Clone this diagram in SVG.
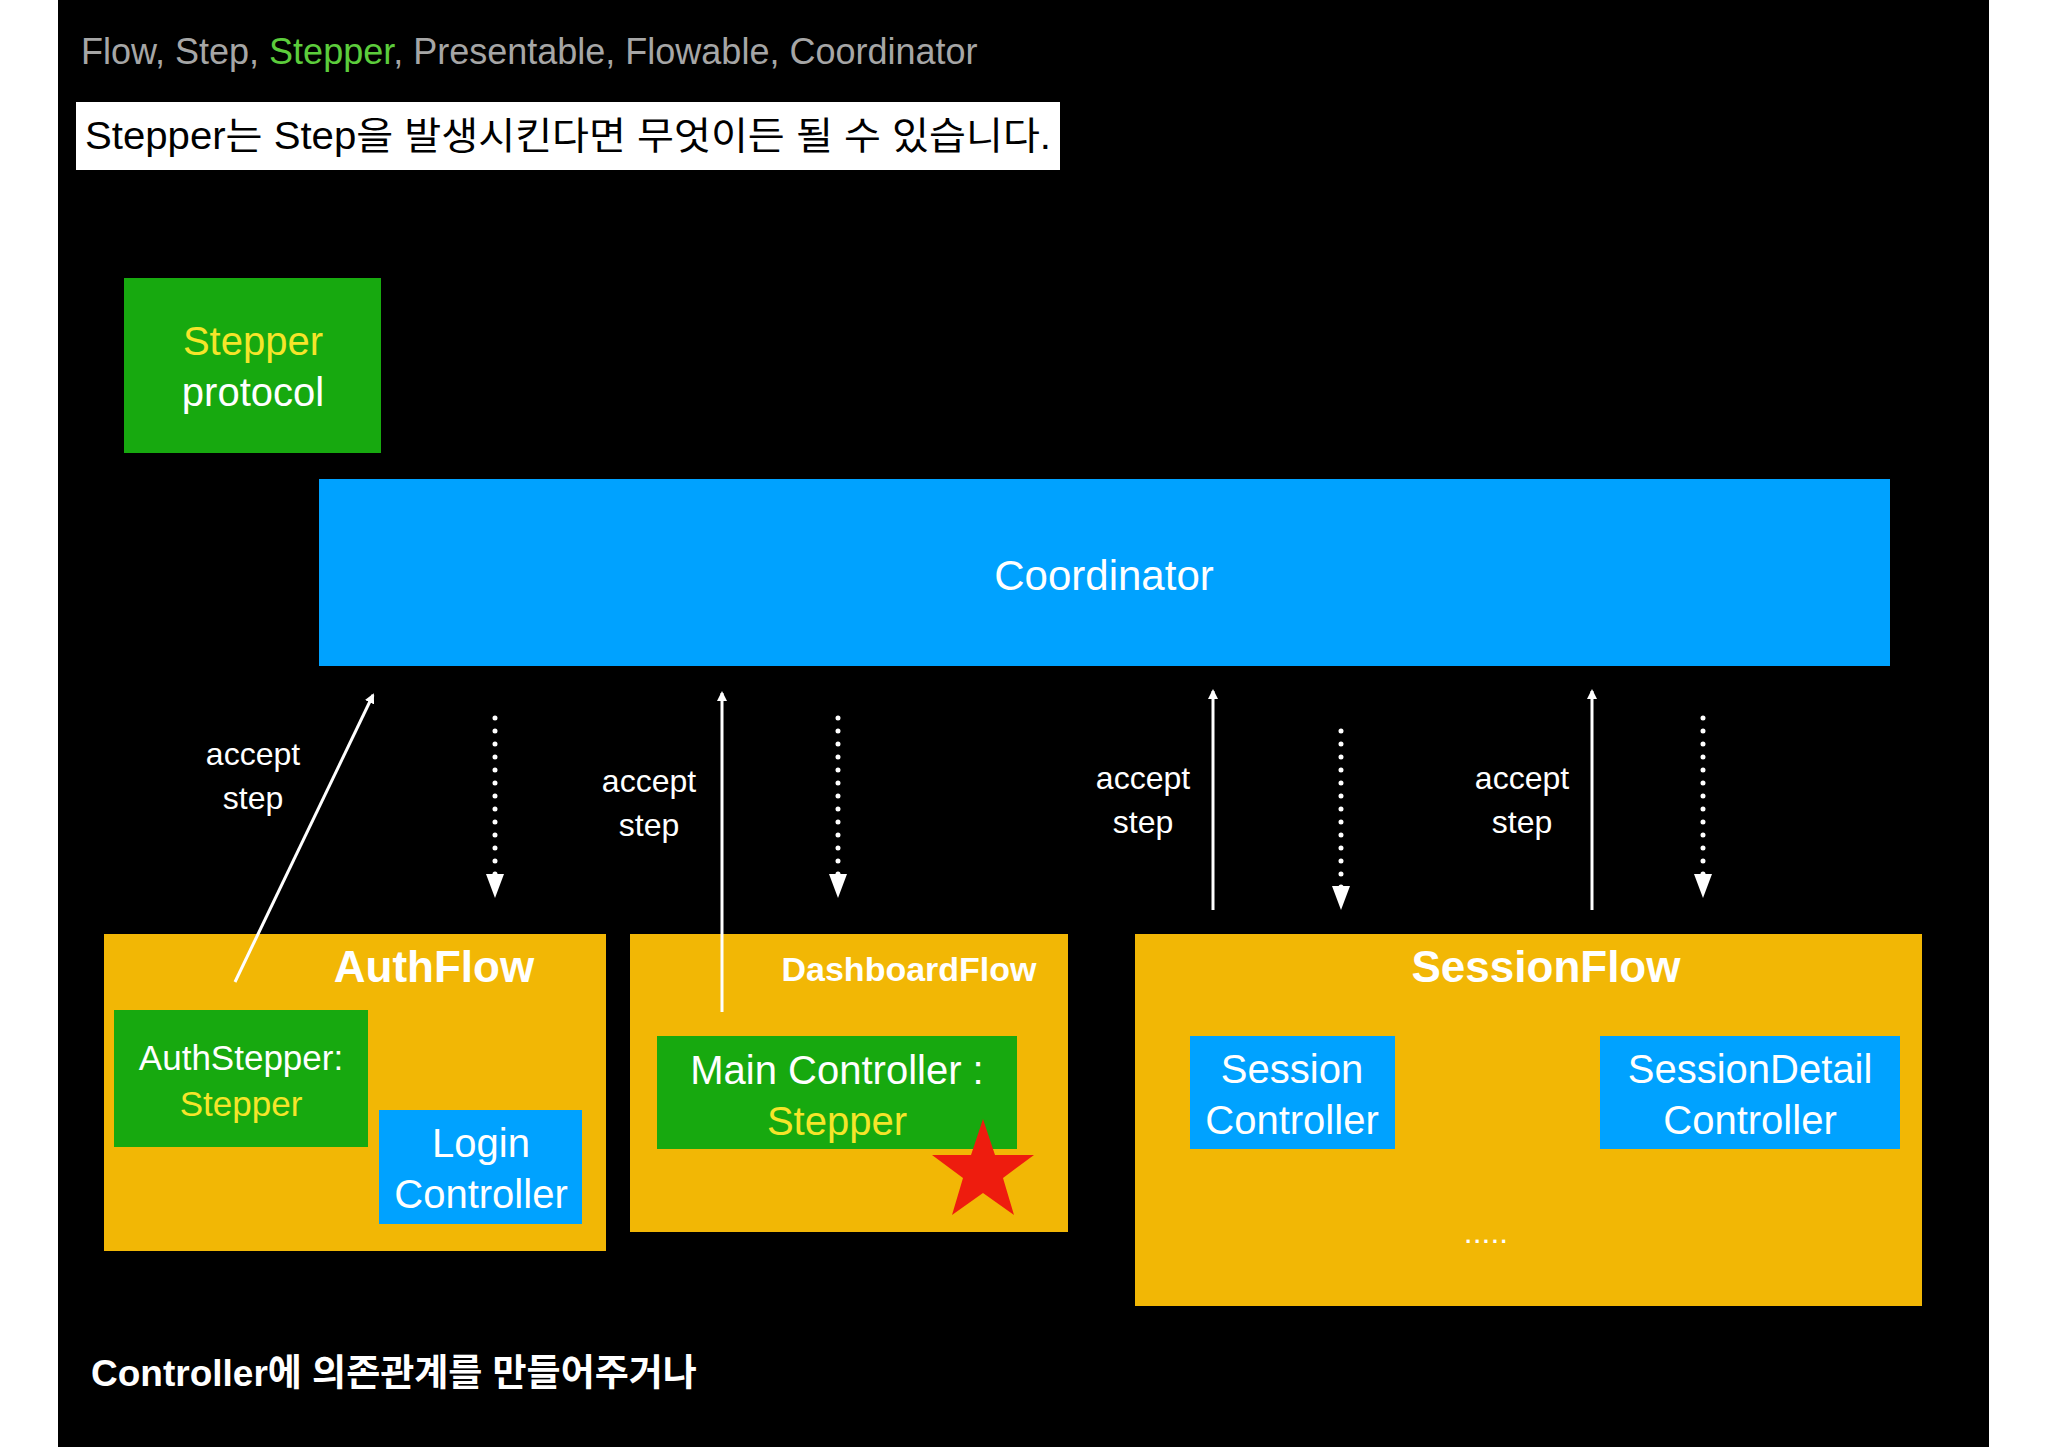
<svg xmlns="http://www.w3.org/2000/svg" width="2048" height="1447" viewBox="0 0 2048 1447">
<defs>
<style>
text{font-family:"Liberation Sans","Noto Sans CJK KR",sans-serif;}
.w{fill:#fff}.y{fill:#f5e52a}.c{text-anchor:middle}
.lab{font-size:32px;fill:#fff;text-anchor:middle}
.solid{stroke:#fff;stroke-width:3;fill:none}
.dot{stroke:#fff;stroke-width:5;fill:none;stroke-linecap:round;stroke-dasharray:0 13}
.flow{fill:#f2b705}.grn{fill:#17a90f}.blu{fill:#00a2ff}
</style>
<marker id="ah" markerWidth="10" markerHeight="10" refX="8" refY="5" orient="auto" markerUnits="userSpaceOnUse" viewBox="0 0 10 10">
<path d="M0,0 L10,5 L0,10 Z" fill="#fff"/>
</marker>
<marker id="ahb" markerWidth="26" markerHeight="24" refX="20" refY="12" orient="auto" markerUnits="userSpaceOnUse" viewBox="0 0 26 24">
<path d="M0,0 L26,12 L0,24 Z" fill="#fff"/>
</marker>
</defs>
<rect width="2048" height="1447" fill="#fff"/>
<rect x="58" y="0" width="1931" height="1447" fill="#000"/>
<g id="title">
<text x="81" y="64" font-size="36" fill="#a6a6a6">Flow, Step, <tspan fill="#5ccc3c">Stepper</tspan>, Presentable, Flowable, Coordinator</text>
</g>
<g id="subtitle">
<rect x="76" y="102" width="984" height="68" fill="#fff"/>
<text x="85" y="149" font-size="38" fill="#000" textLength="966" lengthAdjust="spacingAndGlyphs">Stepper는 Step을 발생시킨다면 무엇이든 될 수 있습니다.</text>
</g>
<g id="stepper-protocol">
<rect x="124" y="278" width="257" height="175" class="grn"/>
<text x="253" y="355" font-size="40" class="y c">Stepper</text>
<text x="253" y="406" font-size="40" class="w c">protocol</text>
</g>
<g id="coordinator">
<rect x="319" y="479" width="1571" height="187" class="blu"/>
<text x="1104" y="590" font-size="42" class="w c">Coordinator</text>
</g>
<g id="authflow">
<rect x="104" y="934" width="502" height="317" class="flow"/>
<text x="434" y="982" font-size="44" font-weight="bold" class="w c">AuthFlow</text>
<rect x="114" y="1010" width="254" height="137" class="grn"/>
<text x="241" y="1070" font-size="35" class="w c">AuthStepper:</text>
<text x="241" y="1116" font-size="35" class="y c">Stepper</text>
<rect x="379" y="1110" width="203" height="114" class="blu"/>
<text x="481" y="1157" font-size="40" class="w c">Login</text>
<text x="481" y="1208" font-size="40" class="w c">Controller</text>
</g>
<g id="dashboardflow">
<rect x="630" y="934" width="438" height="298" class="flow"/>
<text x="909" y="981" font-size="34" font-weight="bold" class="w c">DashboardFlow</text>
<rect x="657" y="1036" width="360" height="113" class="grn"/>
<text x="837" y="1084" font-size="40" class="w c">Main Controller :</text>
<text x="837" y="1135" font-size="40" class="y c">Stepper</text>
<polygon points="983,1119 995,1155 1034,1155 1003,1178 1014,1215 983,1193 952,1215 963,1178 932,1155 971,1155" fill="#ee1c0e"/>
</g>
<g id="sessionflow">
<rect x="1135" y="934" width="787" height="372" class="flow"/>
<text x="1546" y="982" font-size="44" font-weight="bold" class="w c">SessionFlow</text>
<rect x="1190" y="1036" width="205" height="113" class="blu"/>
<text x="1292" y="1083" font-size="40" class="w c">Session</text>
<text x="1292" y="1134" font-size="40" class="w c">Controller</text>
<rect x="1600" y="1036" width="300" height="113" class="blu"/>
<text x="1750" y="1083" font-size="40" class="w c">SessionDetail</text>
<text x="1750" y="1134" font-size="40" class="w c">Controller</text>
<text x="1486" y="1243" font-size="32" class="w c">.....</text>
</g>
<g id="connectors">
<line x1="235" y1="982" x2="373" y2="695" class="solid" marker-end="url(#ah)"/>
<line x1="722" y1="1012" x2="722" y2="693" class="solid" marker-end="url(#ah)"/>
<line x1="1213" y1="910" x2="1213" y2="691" class="solid" marker-end="url(#ah)"/>
<line x1="1592" y1="910" x2="1592" y2="691" class="solid" marker-end="url(#ah)"/>
<path d="M495,718 V880" class="dot"/><path d="M486,874 L504,874 L495,898 Z" fill="#fff"/>
<path d="M838,718 V880" class="dot"/><path d="M829,874 L847,874 L838,898 Z" fill="#fff"/>
<path d="M1341,731 V892" class="dot"/><path d="M1332,886 L1350,886 L1341,910 Z" fill="#fff"/>
<path d="M1703,718 V880" class="dot"/><path d="M1694,874 L1712,874 L1703,898 Z" fill="#fff"/>
<text x="253" y="765" class="lab">accept</text><text x="253" y="809" class="lab">step</text>
<text x="649" y="792" class="lab">accept</text><text x="649" y="836" class="lab">step</text>
<text x="1143" y="789" class="lab">accept</text><text x="1143" y="833" class="lab">step</text>
<text x="1522" y="789" class="lab">accept</text><text x="1522" y="833" class="lab">step</text>
</g>
<g id="footer">
<text x="91" y="1386" font-size="37" font-weight="bold" class="w">Controller에 의존관계를 만들어주거나</text>
</g>
</svg>
